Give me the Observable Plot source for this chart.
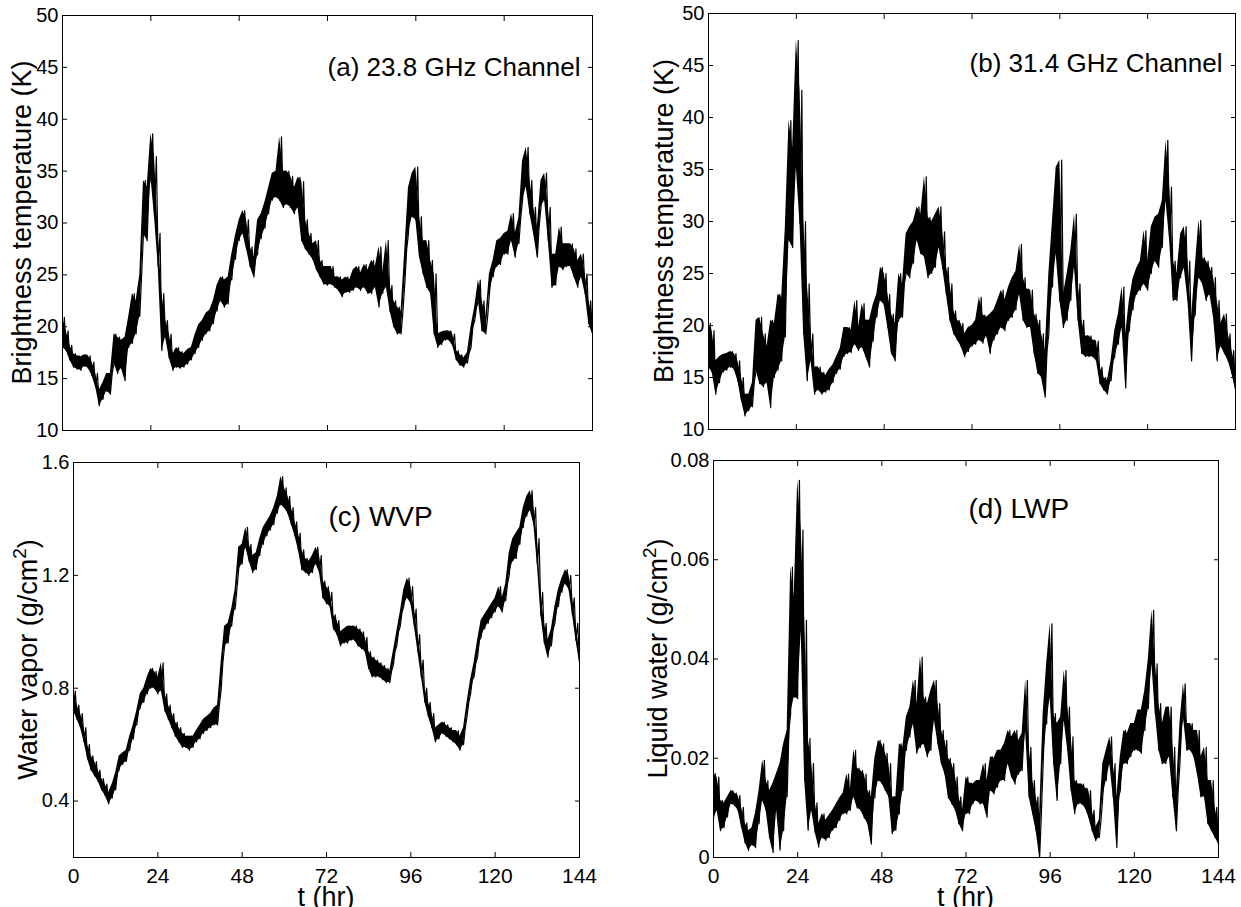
<!DOCTYPE html>
<html>
<head>
<meta charset="utf-8">
<script src="https://cdn.jsdelivr.net/npm/d3@7"></script>
<script src="https://cdn.jsdelivr.net/npm/@observablehq/plot@0.6"></script>
<style>
  body { margin: 0; background: #fff; }
  #wrap { position: relative; width: 1241px; height: 907px; overflow: hidden; background: #fff; }
  #wrap svg { position: absolute; }
</style>
</head>
<body>
<div id="wrap"></div>
<script>
// ---- Data (hourly low / high envelope of each noisy record), t = 0..144 hr ----
const hours = d3.range(0, 145);
const xTicks = [0, 24, 48, 72, 96, 120, 144];
const tbTicks = [10, 15, 20, 25, 30, 35, 40, 45, 50];
const wvpTicks = [0.4, 0.8, 1.2, 1.6];
const lwpTicks = [0, 0.02, 0.04, 0.06, 0.08];

// (a) 23.8 GHz brightness temperature (K)
const tb23Lo = [18.0,17.7,16.8,16.1,15.9,15.8,16.2,16.0,15.3,14.2,12.4,13.0,13.8,13.5,16.5,15.5,16.0,14.8,18.0,18.4,19.3,21.0,29.0,28.3,34.5,30.6,25.8,17.7,19.0,17.0,
  15.8,16.1,16.0,16.1,16.4,16.8,17.4,18.0,18.7,19.3,19.6,20.3,21.5,22.5,21.9,22.2,24.5,26.5,28.3,29.0,27.5,25.8,24.8,27.0,28.5,29.5,30.9,32.2,32.5,32.2,
  31.5,31.8,31.5,30.9,31.5,28.3,27.5,27.0,26.5,25.5,24.8,24.1,24.0,24.1,23.8,23.5,22.9,23.3,23.3,23.5,23.8,23.5,23.8,23.2,23.2,23.8,21.9,23.2,23.8,21.5,
  20.0,19.3,19.3,24.1,29.0,30.6,30.3,26.7,25.1,23.8,23.2,19.3,18.0,18.3,18.7,18.7,18.2,16.8,16.3,16.1,16.5,18.0,20.6,22.5,19.6,19.3,23.2,24.8,25.8,26.0,
  27.0,27.0,28.3,26.7,28.0,32.2,33.5,30.9,29.0,26.7,31.5,32.2,28.3,23.8,24.0,25.8,25.5,25.8,25.8,24.8,23.8,24.8,23.2,20.3,19.3];
const tb23Hi = [20.9,19.6,18.2,17.4,17.2,17.1,17.3,17.2,16.6,15.5,13.9,14.6,15.5,15.5,19.3,19.0,18.7,19.0,21.0,23.2,22.5,25.0,34.1,33.5,38.6,36.4,29.0,23.2,20.6,19.3,
  17.4,18.0,17.6,17.4,17.8,18.0,19.2,20.2,20.6,21.3,21.6,22.5,24.0,24.8,24.5,24.8,27.0,28.8,30.3,31.2,30.3,27.7,26.7,30.3,30.9,32.0,33.4,34.8,35.0,38.3,
  35.0,35.0,34.5,33.4,34.4,34.0,30.3,29.0,28.0,28.3,26.4,25.8,25.8,25.8,24.8,24.8,24.5,24.8,24.5,25.5,25.8,25.2,26.0,25.5,26.4,25.8,27.7,25.2,28.3,24.0,
  22.5,21.9,21.5,27.4,33.4,34.8,35.4,30.6,28.3,28.3,26.4,25.1,19.3,19.5,19.6,19.6,19.3,17.7,17.3,17.0,17.5,20.0,21.9,24.5,22.5,20.9,25.1,26.4,28.3,28.5,
  29.0,29.2,30.9,29.0,30.5,36.0,37.3,34.1,31.5,29.6,34.1,34.8,31.5,27.0,27.0,29.6,28.0,28.0,28.0,27.5,26.4,27.0,25.1,22.5,20.9];

// (b) 31.4 GHz brightness temperature (K)
const tb31Lo = [16.0,15.5,13.4,14.5,15.5,15.7,16.0,15.8,14.7,12.8,11.3,11.8,12.2,15.7,14.4,14.1,14.5,12.1,15.0,15.7,16.6,18.9,28.2,27.5,35.2,29.8,19.2,14.7,16.6,13.4,
  13.8,13.4,13.6,13.8,14.5,15.4,15.8,17.0,17.3,17.4,18.2,17.6,17.9,17.0,16.0,18.5,20.8,22.4,22.0,19.8,17.3,16.6,20.5,20.8,25.0,24.6,26.0,28.2,26.9,26.6,
  24.6,25.0,25.6,27.5,25.5,23.0,20.5,19.2,18.6,18.0,17.0,17.5,18.0,18.2,18.6,18.3,19.0,17.3,18.6,19.2,19.8,19.5,20.5,20.8,21.5,23.0,20.5,19.8,19.8,17.3,
  15.4,15.0,13.1,19.2,23.7,26.9,22.4,19.8,20.5,22.4,25.6,20.5,17.3,17.0,17.0,17.0,16.6,14.4,13.8,13.4,14.7,17.0,18.2,19.8,14.0,19.5,21.5,23.0,23.4,24.0,
  23.4,25.0,26.2,25.6,27.5,32.0,28.2,22.4,22.4,24.6,25.5,22.4,16.6,21.0,24.6,24.0,22.4,23.0,20.8,16.6,18.0,17.3,16.6,15.4,13.8];
const tb31Hi = [20.2,19.5,16.6,17.0,17.2,17.3,17.5,17.3,16.6,15.0,13.4,13.4,14.5,20.5,20.8,19.2,18.0,20.5,20.2,23.0,22.7,29.5,39.7,37.1,47.4,42.6,30.0,24.0,19.2,16.0,
  16.0,15.5,15.2,15.8,16.2,17.0,17.8,19.8,19.8,19.6,22.4,19.8,22.1,20.5,20.5,22.0,23.0,25.6,25.0,23.0,21.1,20.2,25.0,24.0,28.8,29.5,30.0,31.4,30.7,34.3,
  30.4,30.0,30.7,31.4,29.0,25.6,24.0,21.4,20.5,20.2,19.2,19.8,20.0,20.5,22.7,21.0,20.8,21.1,21.5,22.4,23.4,22.5,23.7,24.6,25.2,27.8,24.6,23.5,23.4,21.1,
  20.5,19.2,17.6,25.0,30.1,35.2,35.9,23.0,25.0,27.2,30.7,24.0,20.5,19.0,19.0,18.6,18.5,16.0,15.0,14.7,16.6,19.5,21.1,23.7,19.2,22.4,24.5,25.5,26.2,29.1,
  26.2,29.5,30.4,30.7,32.0,37.8,33.3,26.2,25.0,28.8,29.5,26.2,20.8,25.6,30.1,26.5,26.2,25.6,24.6,22.4,20.2,21.1,19.2,17.6,16.0];

// (c) water vapor path (g/cm^2)
const wvpLo = [0.72,0.69,0.66,0.61,0.55,0.51,0.49,0.47,0.44,0.42,0.39,0.41,0.44,0.51,0.53,0.54,0.58,0.62,0.67,0.73,0.75,0.78,0.80,0.80,0.78,0.79,0.72,0.69,0.66,0.63,
  0.61,0.59,0.59,0.58,0.59,0.61,0.62,0.64,0.65,0.66,0.67,0.67,0.79,0.95,0.96,1.02,1.08,1.22,1.24,1.30,1.25,1.21,1.22,1.27,1.31,1.34,1.36,1.38,1.42,1.45,
  1.44,1.42,1.38,1.34,1.29,1.22,1.21,1.20,1.21,1.24,1.21,1.12,1.10,1.09,1.01,0.99,0.95,0.96,0.96,0.97,0.97,0.95,0.94,0.93,0.87,0.84,0.84,0.84,0.83,0.82,
  0.82,0.88,0.95,1.02,1.09,1.12,1.10,1.02,0.93,0.84,0.75,0.70,0.66,0.61,0.62,0.64,0.63,0.62,0.61,0.60,0.58,0.60,0.70,0.78,0.84,0.91,0.98,1.01,1.03,1.05,
  1.07,1.09,1.07,1.11,1.20,1.25,1.26,1.31,1.37,1.41,1.43,1.38,1.24,1.06,0.96,0.91,0.95,1.03,1.09,1.14,1.17,1.15,1.06,0.97,0.89];
const wvpHi = [0.79,0.74,0.71,0.66,0.60,0.56,0.54,0.51,0.48,0.46,0.43,0.46,0.50,0.56,0.57,0.58,0.63,0.67,0.72,0.78,0.80,0.84,0.87,0.86,0.84,0.89,0.78,0.74,0.71,0.68,
  0.66,0.64,0.63,0.63,0.63,0.65,0.67,0.69,0.70,0.71,0.73,0.74,0.89,1.02,1.03,1.08,1.15,1.30,1.31,1.37,1.31,1.27,1.28,1.33,1.37,1.39,1.41,1.44,1.48,1.55,
  1.51,1.48,1.44,1.39,1.35,1.29,1.26,1.25,1.27,1.30,1.27,1.18,1.16,1.14,1.06,1.04,1.00,1.01,1.02,1.02,1.02,1.01,1.00,0.98,0.93,0.91,0.90,0.89,0.88,0.87,
  0.86,0.93,1.00,1.07,1.15,1.19,1.16,1.08,0.99,0.90,0.80,0.75,0.71,0.66,0.67,0.68,0.67,0.66,0.65,0.65,0.63,0.66,0.75,0.83,0.89,0.97,1.04,1.06,1.08,1.10,
  1.12,1.16,1.12,1.17,1.28,1.33,1.35,1.37,1.44,1.48,1.50,1.44,1.33,1.14,1.03,0.97,1.01,1.09,1.15,1.19,1.22,1.20,1.12,1.03,0.93];

// (d) liquid water path (g/cm^2)
const lwpLo = [0.0075,0.0095,0.0054,0.0060,0.0082,0.0108,0.0105,0.0095,0.0061,0.0030,0.0014,0.0025,0.0020,0.0068,0.0115,0.0095,0.0040,0.0010,0.0095,0.0015,
  0.0054,0.0122,0.0290,0.0323,0.0320,0.0457,0.0155,0.0055,0.0095,0.0050,0.0021,0.0040,0.0035,0.0040,0.0055,0.0060,0.0075,0.0088,0.0088,0.0095,
  0.0122,0.0100,0.0095,0.0080,0.0068,0.0027,0.0120,0.0155,0.0150,0.0135,0.0122,0.0048,0.0055,0.0088,0.0135,0.0216,0.0243,0.0269,0.0210,0.0222,
  0.0229,0.0203,0.0216,0.0276,0.0229,0.0189,0.0168,0.0120,0.0108,0.0095,0.0068,0.0054,0.0088,0.0088,0.0108,0.0115,0.0108,0.0108,0.0081,0.0135,
  0.0128,0.0142,0.0155,0.0155,0.0189,0.0162,0.0148,0.0168,0.0175,0.0256,0.0122,0.0088,0.0054,0.0000,0.0189,0.0269,0.0323,0.0189,0.0115,0.0189,
  0.0276,0.0216,0.0135,0.0088,0.0108,0.0108,0.0100,0.0081,0.0054,0.0034,0.0040,0.0122,0.0155,0.0189,0.0122,0.0020,0.0135,0.0189,0.0189,0.0203,
  0.0216,0.0216,0.0210,0.0256,0.0300,0.0390,0.0290,0.0216,0.0189,0.0189,0.0203,0.0122,0.0054,0.0189,0.0283,0.0216,0.0216,0.0203,0.0168,0.0122,
  0.0122,0.0068,0.0054,0.0041,0.0027];
const lwpHi = [0.0169,0.0162,0.0115,0.0110,0.0122,0.0135,0.0130,0.0125,0.0101,0.0070,0.0054,0.0060,0.0090,0.0135,0.0196,0.0155,0.0135,0.0150,0.0170,0.0190,
  0.0229,0.0256,0.0585,0.0525,0.0760,0.0660,0.0478,0.0240,0.0189,0.0110,0.0068,0.0088,0.0075,0.0085,0.0095,0.0108,0.0120,0.0130,0.0168,0.0135,
  0.0216,0.0180,0.0175,0.0168,0.0135,0.0122,0.0200,0.0236,0.0229,0.0210,0.0189,0.0122,0.0122,0.0229,0.0222,0.0283,0.0303,0.0357,0.0310,0.0404,
  0.0323,0.0310,0.0337,0.0357,0.0310,0.0256,0.0236,0.0200,0.0189,0.0162,0.0122,0.0095,0.0162,0.0150,0.0148,0.0155,0.0155,0.0189,0.0155,0.0203,
  0.0200,0.0216,0.0216,0.0230,0.0256,0.0243,0.0256,0.0236,0.0250,0.0357,0.0222,0.0155,0.0122,0.0088,0.0290,0.0390,0.0471,0.0290,0.0270,0.0283,
  0.0377,0.0303,0.0243,0.0155,0.0148,0.0148,0.0140,0.0135,0.0095,0.0061,0.0075,0.0189,0.0216,0.0243,0.0189,0.0122,0.0203,0.0256,0.0250,0.0270,
  0.0270,0.0297,0.0297,0.0337,0.0400,0.0498,0.0390,0.0310,0.0270,0.0303,0.0303,0.0222,0.0135,0.0270,0.0350,0.0270,0.0270,0.0256,0.0256,0.0203,
  0.0222,0.0155,0.0155,0.0101,0.0068];

// ---- a trace running through the low and high value of each hour, and the hourly envelope ----
function trace(lo, hi) {
  const pts = [];
  hours.forEach((h, i) => {
    pts.push({t: h, v: lo[i]});
    if (i < hours.length - 1) pts.push({t: h + 0.5, v: hi[i]});
  });
  return pts;
}
function envelope(lo, hi) {
  return hours.map((h, i) => ({t: h, lo: lo[i], hi: hi[i]}));
}

const FONT = "'Liberation Sans', Arial, Helvetica, sans-serif";
const wrap = document.getElementById("wrap");

function panel({left, top, width, height, margins, yDomain, yTicks, yFmt, lo, hi, title, titleSize, titleAnchor, titleDx, titleDy, ylabel, ylabelX, sup, xLabels}) {
  const [mt, mr, mb, ml] = margins;
  const marks = [
    Plot.areaY(envelope(lo, hi), {x: "t", y1: "lo", y2: "hi", fill: "black", fillOpacity: 1}),
    Plot.line(trace(lo, hi), {x: "t", y: "v", stroke: "black", strokeWidth: 1.2}),
    Plot.frame({stroke: "black", strokeWidth: 1}),
    // inward ticks on all four sides
    Plot.axisY(yTicks, {anchor: "left", tickSize: -5, tickFormat: () => "", label: null}),
    Plot.axisY(yTicks, {anchor: "right", tickSize: -5, tickFormat: () => "", label: null}),
    Plot.axisX(xTicks, {anchor: "bottom", tickSize: -5, tickFormat: () => "", label: null}),
    Plot.axisX(xTicks, {anchor: "top", tickSize: -5, tickFormat: () => "", label: null}),
    Plot.axisY(yTicks, {anchor: "left", tickSize: 0, tickPadding: 4, tickFormat: yFmt, label: null, fontSize: 20}),
    Plot.text([title], {frameAnchor: titleAnchor, textAnchor: titleAnchor.endsWith("right") ? "end" : "start",
      lineAnchor: "middle", dx: titleDx, dy: titleDy, fontSize: titleSize, fill: "black"})
  ];
  if (xLabels) {
    marks.push(Plot.axisX(xTicks, {anchor: "bottom", tickSize: 0, tickPadding: 11, label: null, fontSize: 21}));
  }
  const svg = Plot.plot({
    width, height,
    marginTop: mt, marginRight: mr, marginBottom: mb, marginLeft: ml,
    x: {domain: [0, 144]},
    y: {domain: yDomain},
    style: {fontFamily: FONT, color: "black", background: "white", overflow: "visible"},
    marks
  });
  svg.style.left = left + "px";
  svg.style.top = top + "px";
  const s = d3.select(svg);
  const cy = mt + (height - mt - mb) / 2;
  const yl = s.append("text")
    .attr("transform", `translate(${ylabelX},${cy}) rotate(-90)`)
    .attr("text-anchor", "middle")
    .attr("font-size", 27)
    .attr("font-family", FONT)
    .attr("fill", "black");
  if (sup) {
    yl.append("tspan").text(ylabel[0]);
    yl.append("tspan").text(ylabel[1]).attr("font-size", 19).attr("dy", -11);
    yl.append("tspan").text(ylabel[2]).attr("dy", 11);
  } else {
    yl.text(ylabel);
  }
  if (xLabels) {
    s.append("text")
      .attr("x", ml + (width - ml - mr) / 2)
      .attr("y", height - 1)
      .attr("text-anchor", "middle")
      .attr("font-size", 27)
      .attr("font-family", FONT)
      .attr("fill", "black")
      .text("t (hr)");
  }
  wrap.appendChild(svg);
}

const fmtPlain = d => d === 0 ? "0" : String(d);

panel({left: 0, top: 0, width: 600, height: 440, margins: [15, 8, 10, 62],
  yDomain: [10, 50], yTicks: tbTicks, yFmt: fmtPlain, lo: tb23Lo, hi: tb23Hi,
  title: "(a) 23.8 GHz Channel", titleSize: 26, titleAnchor: "top-right", titleDx: -12, titleDy: 52,
  ylabel: "Brightness temperature (K)", ylabelX: 31, sup: false, xLabels: false});

panel({left: 620, top: 0, width: 621, height: 440, margins: [13, 6, 11, 88],
  yDomain: [10, 50], yTicks: tbTicks, yFmt: fmtPlain, lo: tb31Lo, hi: tb31Hi,
  title: "(b) 31.4 GHz Channel", titleSize: 26, titleAnchor: "top-right", titleDx: -13, titleDy: 50,
  ylabel: "Brightness temperature (K)", ylabelX: 53, sup: false, xLabels: false});

panel({left: 0, top: 440, width: 600, height: 467, margins: [22, 21, 50, 73],
  yDomain: [0.2, 1.6], yTicks: wvpTicks, yFmt: fmtPlain, lo: wvpLo, hi: wvpHi,
  title: "(c) WVP", titleSize: 28, titleAnchor: "top-left", titleDx: 255, titleDy: 55,
  ylabel: ["Water vapor (g/cm", "2", ")"], ylabelX: 37, sup: true, xLabels: true});

panel({left: 620, top: 440, width: 621, height: 467, margins: [20, 23, 50, 93],
  yDomain: [0, 0.08], yTicks: lwpTicks, yFmt: fmtPlain, lo: lwpLo, hi: lwpHi,
  title: "(d) LWP", titleSize: 28, titleAnchor: "top-left", titleDx: 255, titleDy: 49,
  ylabel: ["Liquid water (g/cm", "2", ")"], ylabelX: 47, sup: true, xLabels: true});
</script>
</body>
</html>
